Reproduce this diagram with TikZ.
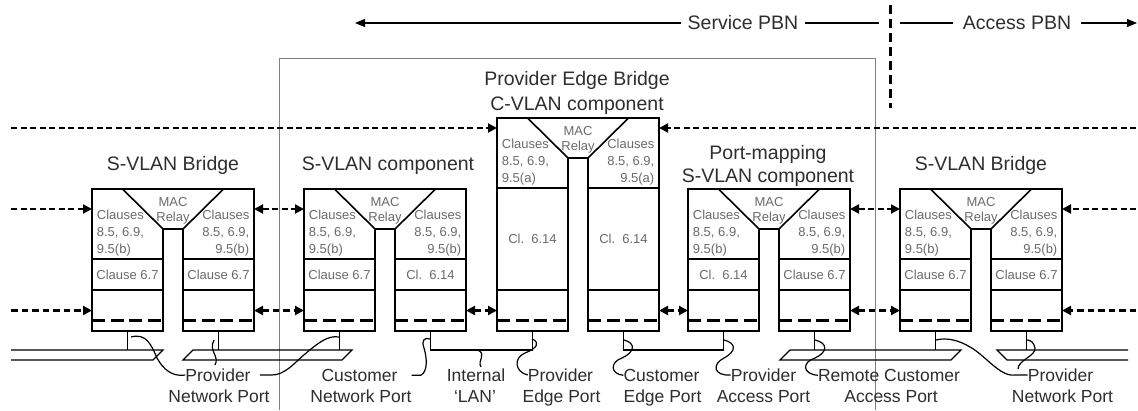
\documentclass[tikz,border=0pt]{standalone}
\usepackage{fontspec}
\setmainfont{Liberation Sans}
\usetikzlibrary{arrows.meta}
\definecolor{txtgray}{gray}{0.42}
\definecolor{lblgray}{gray}{0.18}
\definecolor{framegray}{gray}{0.5}
\tikzset{
  boxline/.style={line width=1.6pt},
  portbox/.style={draw,line width=1.6pt,minimum width=71pt,minimum height=41pt,inner sep=0pt,outer sep=0pt},
  portdash/.style={line width=2.6pt,dash pattern=on 13pt off 5.5pt},
  dashA/.style={line width=2pt,dash pattern=on 6pt off 3.5pt},
  dashC/.style={line width=2.6pt,dash pattern=on 6.5pt off 4pt},
  arrR/.style={-{Triangle[length=9pt,width=9pt]}},
  arrLR/.style={{Triangle[length=9pt,width=9pt]}-{Triangle[length=9pt,width=9pt]}},
  small/.style={font=\fontsize{13}{16}\selectfont,text=txtgray,inner sep=0pt},
  head/.style={font=\fontsize{19.5}{24}\selectfont,text=lblgray,inner sep=0pt},
  lbl/.style={font=\fontsize{17.5}{21}\selectfont,text=lblgray,inner sep=0pt},
  callout/.style={line width=1.2pt},
  lan/.style={line width=1.3pt},
  pbn/.style={line width=1.2pt},
}
\newcommand\pairblock[6]{%
 \coordinate (#3W) at (#1,#2);
 \coordinate (#3E) at ({#1+162},#2);
 \draw[boxline] (#1,331) -- (#3W) -- (#3E) -- ({#1+162},331) -- ({#1+91},331) -- ({#1+91},{#2+40}) -- ({#1+71},{#2+40}) -- ({#1+71},331) -- cycle;
 \draw[boxline] ({#1+30.5},#2) -- ({#1+71},{#2+40}) ({#1+91},{#2+40}) -- ({#1+131.5},#2);
 \draw[boxline] (#1,{#2+70}) -- ({#1+71},{#2+70}) ({#1+91},{#2+70}) -- ({#1+162},{#2+70});
 \node[portbox] (#3a) at ({#1+35.5},310.5) {};
 \node[portbox] (#3b) at ({#1+126.5},310.5) {};
 \draw[portdash] (#1,320.7) -- ({#1+71},320.7) ({#1+91},320.7) -- ({#1+162},320.7);
 \node[small,anchor=base] (#3mac) at ({#1+81},{#2+17.3}) {MAC};
 \node[small,anchor=base] (#3rel) at ({#1+81},{#2+32.4}) {Relay};
 \node[small,anchor=base west] (#3la) at ({#1+4.7},{#2+30.6}) {Clauses};
 \node[small,anchor=base west] (#3lb) at ({#1+4.7},{#2+47.3}) {8.5, 6.9,};
 \node[small,anchor=base west] (#3lc) at ({#1+4.7},{#2+64}) {9.5(#4)};
 \node[small,anchor=base east] (#3ra) at ({#1+157.5},{#2+30.6}) {Clauses};
 \node[small,anchor=base east] (#3rb) at ({#1+157.5},{#2+47.3}) {8.5, 6.9,};
 \node[small,anchor=base east] (#3rc) at ({#1+157.5},{#2+64}) {9.5(#4)};
 \node[small] (#3rowa) at ({#1+35.5},{(#2+360)/2}) {#5};
 \node[small] (#3rowb) at ({#1+126.5},{(#2+360)/2}) {#6};
}
\begin{document}
\begin{tikzpicture}[x=1pt,y=-1pt]
\useasboundingbox (0,0) rectangle (1138,410);
\fill[white] (0,0) rectangle (1138,410);
% Provider Edge Bridge frame
\draw[line width=1pt,framegray] (279,410) -- (279,58) -- (875,58) -- (875,410);
% PBN banner
\node[head,inner xsep=7pt] (spbn) at (743,23) {Service PBN};
\draw[pbn,-{Triangle[length=10pt,width=8pt]}] (spbn.west) -- (355,23);
\draw[pbn] (spbn.east) -- (879,23);
\node[head,inner xsep=10pt] (apbn) at (1017,23) {Access PBN};
\draw[pbn] (apbn.west) -- (900,23);
\draw[pbn,-{Triangle[length=10pt,width=8pt]}] (apbn.east) -- (1137,23);
\draw[line width=3pt,dash pattern=on 9pt off 5pt] (890,5) -- (890,108);
% headers
\node[head,anchor=base] (hsvb1) at (173,170) {S-VLAN Bridge};
\node[head,anchor=base] (hsvc) at (388,170) {S-VLAN component};
\node[head,anchor=base] (hpeb) at (577,85) {Provider Edge Bridge};
\node[head,anchor=base] (hcvc) at (577,110) {C-VLAN component};
\node[head,anchor=base] (hpm1) at (768,159) {Port-mapping};
\node[head,anchor=base] (hpm2) at (768,182) {S-VLAN component};
\node[head,anchor=base] (hsvb2) at (981,170) {S-VLAN Bridge};
% blocks
\pairblock{92}{189}{pa}{b}{Clause 6.7}{Clause 6.7}
\pairblock{304}{189}{pb}{b}{Clause 6.7}{Cl.\ \ 6.14}
\pairblock{497}{118}{pc}{a}{Cl.\ \ 6.14}{Cl.\ \ 6.14}
\pairblock{688}{189}{pd}{b}{Cl.\ \ 6.14}{Clause 6.7}
\pairblock{900}{189}{pe}{b}{Clause 6.7}{Clause 6.7}
% dashed arrows
\coordinate (lA) at (11,128); \coordinate (rA) at (1136,128);
\coordinate (lB) at (11,209); \coordinate (rB) at (1136,209);
\coordinate (lC) at (11,310.5); \coordinate (rC) at (1136,310.5);
\draw[dashA,arrR] (lA) -- (lA -| pcW);
\draw[dashA,arrR] (rA) -- (rA -| pcE);
\draw[dashA,arrR] (lB) -- (lB -| paW);
\draw[dashA,arrLR] (paE |- lB) -- (pbW |- lB);
\draw[dashA,arrLR] (pdE |- lB) -- (peW |- lB);
\draw[dashA,arrR] (rB) -- (rB -| peE);
\draw[dashC,arrR] (lC) -- (paa.west);
\draw[dashC,arrLR] (pab.east) -- (pba.west);
\draw[dashC,arrLR] (pbb.east) -- (pca.west);
\draw[dashC,arrLR] (pcb.east) -- (pda.west);
\draw[dashC,arrLR] (pdb.east) -- (pea.west);
\draw[dashC,arrR] (rC) -- (peb.east);
% stems
\foreach \n in {paa,pab,pba,pdb,pea,peb}{\draw[boxline] (\n.south) -- ++(0,19);}
\draw[boxline] (pbb.south) -- ++(0,19) -| (pca.south);
\draw[boxline] (pcb.south) -- ++(0,19) -| (pda.south);
% LANs
\draw[lan] (11,350) -- (163,350) -- (153,360) -- (11,360);
\draw[lan] (193,350) -- (352,350) -- (342,360) -- (183,360) -- cycle;
\draw[lan] (790,350) -- (961,350) -- (951,360) -- (780,360) -- cycle;
\draw[lan] (1128,350) -- (997,350) -- (1007,360) -- (1128,360);
% bottom labels
\node[lbl,anchor=base] (pnpLa) at (218,381.3) {Provider};
\node[lbl,anchor=base] (pnpLb) at (219,402.3) {Network Port};
\node[lbl,anchor=base] (cnpa) at (359.5,381.3) {Customer};
\node[lbl,anchor=base] (cnpb) at (361,402.3) {Network Port};
\node[lbl,anchor=base] (inta) at (476,381.3) {Internal};
\node[lbl,anchor=base] (intb) at (475,402.3) {‘LAN’};
\node[lbl,anchor=base] (pepa) at (560.5,381.3) {Provider};
\node[lbl,anchor=base] (pepb) at (561.5,402.3) {Edge Port};
\node[lbl,anchor=base] (cepa) at (661.5,381.3) {Customer};
\node[lbl,anchor=base] (cepb) at (662.5,402.3) {Edge Port};
\node[lbl,anchor=base] (papa) at (763.5,381.3) {Provider};
\node[lbl,anchor=base] (papb) at (763.5,402.3) {Access Port};
\node[lbl,anchor=base] (rcaa) at (889,381.3) {Remote Customer};
\node[lbl,anchor=base] (rcab) at (891,402.3) {Access Port};
\node[lbl,anchor=base] (pnpRa) at (1060.5,381.3) {Provider};
\node[lbl,anchor=base] (pnpRb) at (1062.5,402.3) {Network Port};
% callouts
\draw[callout] (pnpLa.west) .. controls (172,377) and (163,369) .. (157,358) .. controls (151,344) and (146,333) .. (131,337);
\draw[callout] (215,365) .. controls (220,356) and (208,351) .. (214,340);
\draw[callout] ([xshift=9pt]pnpLa.east) -- ++(10,0) .. controls (285,376) and (295,362) .. (305,354) .. controls (318,343) and (328,335) .. (339,337);
\draw[callout] ([xshift=14pt]cnpa.east) -- ++(9,0) .. controls (428,372) and (427,358) .. (424,348) .. controls (421,340) and (425,337) .. (430,339);
\draw[callout] (478,350) .. controls (487,355) and (477,360) .. (481,367);
\draw[callout] (pepa.west) .. controls (515,372) and (513,358) .. (525,353) .. controls (538,348) and (540,342) .. (532,339);
\draw[callout] (cepa.west) .. controls (610,374) and (610,362) .. (622,358) .. controls (635,352) and (636,343) .. (624,340);
\draw[callout] (papa.west) .. controls (713,376) and (712,364) .. (724,358) .. controls (737,351) and (736,343) .. (724,340);
\draw[callout] (rcaa.west) .. controls (802,374) and (802,362) .. (815,358) .. controls (828,352) and (828,343) .. (815,340);
\draw[callout] (pnpRa.west) -- ++(-13,0) .. controls (1000,377) and (985,355) .. (970,347) .. controls (960,341) and (948,337) .. (936,340);
\draw[callout] (1018,369) .. controls (1018,360) and (1036,356) .. (1035,348) .. controls (1034,342) and (1030,340) .. (1027,340);
\end{tikzpicture}
\end{document}
